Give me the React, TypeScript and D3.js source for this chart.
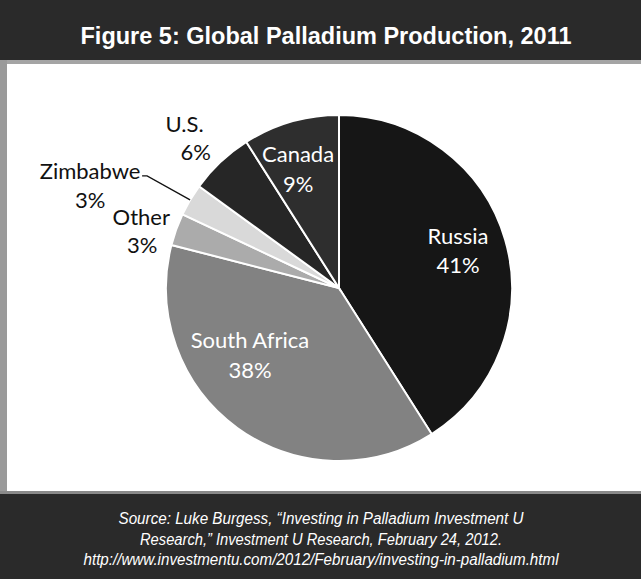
import React from "react";
import * as d3 from "d3";

const categories = ["Russia", "South Africa", "Other", "Zimbabwe", "U.S.", "Canada"];
const shares = [41, 38, 3, 3, 6, 9];
const sliceColors = ["#161616", "#828282", "#ababab", "#d9d9d9", "#262626", "#2e2e2e"];
const titleText = "Figure 5: Global Palladium Production, 2011";
const sourceLines = [
  "Source: Luke Burgess, \u201cInvesting in Palladium Investment U",
  "Research,\u201d Investment U Research, February 24, 2012.",
  "http://www.investmentu.com/2012/February/investing-in-palladium.html",
];

const W = 641;
const H = 579;
const cx = 339;
const cy = 288;
const R = 173;

// label nudges from arc centroid (inside) or rim centroid (outside): [dx1, dy1, dx2, dy2]
const labelNudge = [
  [16, -14, 16, 15],
  [-26, -27, -26, 3],
  [-35, -4, -34, 24],
  [-100, -21, -100, 8],
  [-36, -30, -25, -2],
  [-11, -23, -11, 7],
];
const insideLabel = [true, true, false, false, false, true];

export default function App() {
  const pie = d3
    .pie<number>()
    .sort(null)
    .value((d) => d)
    .startAngle(0)
    .endAngle(2 * Math.PI);
  const arcs = pie(shares);
  const arc = d3.arc<d3.PieArcDatum<number>>().innerRadius(0).outerRadius(R);
  const labelArc = d3
    .arc<d3.PieArcDatum<number>>()
    .innerRadius(R * 0.62)
    .outerRadius(R * 0.62);
  const rimArc = d3.arc<d3.PieArcDatum<number>>().innerRadius(R).outerRadius(R);

  const fontLbl = "Lato, 'Open Sans', sans-serif";
  const fs = 22;

  // leader line for Zimbabwe: from end of its text to the slice rim
  const zi = 3;
  const zc = rimArc.centroid(arcs[zi]);
  const zStartX = zc[0] + labelNudge[zi][0] + 52;
  const zStartY = zc[1] + labelNudge[zi][1] - 3;

  return (
    <svg
      width={W}
      height={H}
      viewBox={`0 0 ${W} ${H}`}
      style={{ position: "absolute", left: 0, top: 0, background: "#fff" }}
    >
      <rect x={0} y={0} width={W} height={H} fill="#fff" />
      {/* header */}
      <rect x={0} y={0} width={W} height={60} fill="#2a2a2a" />
      <rect x={0} y={60} width={W} height={4} fill="#a4a4a4" />
      {/* left strip */}
      <rect x={0} y={60} width={7} height={433} fill="#9a9a9a" />
      {/* footer */}
      <rect x={0} y={493} width={W} height={H - 493} fill="#2a2a2a" />
      <rect x={0} y={491} width={W} height={3} fill="#8a8a8a" />

      <text
        x={326}
        y={44}
        textAnchor="middle"
        fill="#fff"
        fontFamily="'Liberation Sans', Arial, sans-serif"
        fontWeight="bold"
        fontSize={23.5}
      >
        {titleText}
      </text>

      <g transform={`translate(${cx},${cy})`}>
        {arcs.map((a, i) => (
          <path key={i} d={arc(a) || ""} fill={sliceColors[i]} stroke="#fff" strokeWidth={2} />
        ))}

        {arcs.map((a, i) => {
          const c = insideLabel[i] ? labelArc.centroid(a) : rimArc.centroid(a);
          const n = labelNudge[i];
          return (
            <text
              key={"l" + i}
              textAnchor="middle"
              fill={insideLabel[i] ? "#fff" : "#111"}
              fontFamily={fontLbl}
              fontSize={fs}
            >
              <tspan x={c[0] + n[0]} y={c[1] + n[1]}>{categories[i]}</tspan>
              <tspan x={c[0] + n[2]} y={c[1] + n[3]}>{shares[i] + "%"}</tspan>
            </text>
          );
        })}

        <polyline
          points={`${zStartX},${zStartY} ${zStartX + 5},${zStartY} ${zc[0]},${zc[1]}`}
          fill="none"
          stroke="#111"
          strokeWidth={1.3}
        />
      </g>

      {sourceLines.map((s, i) => (
        <text
          key={"s" + i}
          x={321}
          y={524 + i * 20.5}
          textAnchor="middle"
          fill="#fff"
          fontFamily="'Liberation Sans Narrow', 'Liberation Sans', Arial, sans-serif"
          fontStyle="italic"
          fontSize={16}
          textLength={[405, 362, 475][i]}
          lengthAdjust="spacingAndGlyphs"
        >
          {s}
        </text>
      ))}
    </svg>
  );
}
